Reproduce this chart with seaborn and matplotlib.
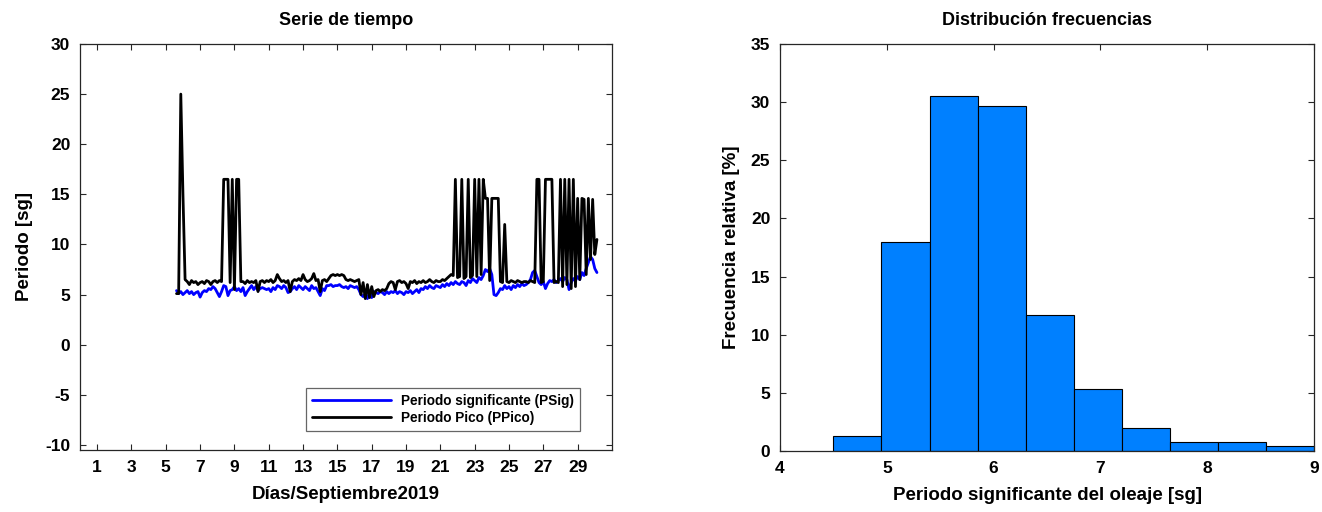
import numpy as np
import pandas as pd
import matplotlib
matplotlib.use("Agg")
import matplotlib.pyplot as plt
import seaborn as sns

# ---------------- data ----------------
# time series sampled every 3 hours (0.125 day), starting at day 5.625 of September 2019
day_start = 5.625
day_step = 0.125

psig = [5.4, 5.1, 5.3,
        5.0, 5.2, 5.4, 5.1, 5.3, 5.0, 5.2, 5.3,
        4.75, 5.2, 5.4, 5.3, 5.6, 5.5, 5.8, 5.6,
        5.2, 4.8, 5.3, 5.9, 5.8, 4.9, 5.4, 5.5,
        5.8, 5.4, 5.6, 5.3, 5.7, 4.9, 5.3, 5.6,
        5.9, 5.5, 5.8, 5.4, 5.6, 5.7, 5.6, 5.5,
        5.6, 5.3, 5.7, 5.5, 5.9, 5.8, 5.6, 5.9,
        5.7, 5.2, 5.3, 5.6, 5.8, 5.5, 5.9, 5.7,
        5.5, 5.8, 5.6, 5.4, 5.9, 5.6, 5.7, 5.3,
        4.9, 5.6, 5.4, 5.9, 5.9, 6.0, 5.8, 5.9,
        5.9, 6.0, 5.8, 5.7, 5.8, 5.6, 5.9, 5.8,
        5.7, 5.8, 5.5, 5.0, 4.8, 5.1, 4.6, 5.2,
        4.7, 5.3, 5.2, 5.1, 5.3, 5.2, 5.0, 5.3,
        5.1, 5.3, 5.2, 5.4, 5.1, 5.3, 5.2, 5.0,
        5.3, 5.2, 5.4, 5.1, 5.3, 5.5, 5.2, 5.6,
        5.5, 5.8, 5.6, 5.9, 5.7, 5.6, 5.9, 5.8,
        5.7, 6.0, 5.8, 6.1, 5.9, 6.2, 6.0, 6.3,
        6.1, 6.0, 6.3, 6.2, 5.9, 6.4, 6.2, 6.6,
        6.4, 6.2, 6.7, 6.5, 6.9, 7.5, 7.3, 7.6,
        7.0, 5.0, 4.9, 5.2, 5.6, 5.5, 5.9, 5.6,
        5.8, 5.5, 5.9, 5.7, 6.0, 5.8, 6.1, 5.9,
        6.0, 6.2, 6.5, 7.2, 7.4, 6.8, 6.2, 6.0,
        6.3, 5.6, 6.1, 6.4, 6.3, 6.5, 6.2, 6.4,
        6.6, 6.3, 6.7, 6.5, 5.5, 6.2, 6.6, 6.4,
        6.8, 6.5, 7.2, 6.9, 7.6, 8.2, 8.8, 8.5,
        7.6, 7.2]

ppico = [5.1, 5.1, 25.0,
         15.0, 6.5, 6.3, 6.0, 6.4, 6.2, 6.3, 6.0,
         6.2, 6.3, 6.1, 6.4, 6.3, 6.0, 6.3, 6.4,
         6.2, 6.4, 6.3, 16.5, 16.5, 16.5, 6.2, 16.5,
         5.5, 16.5, 16.5, 6.3, 6.3, 6.1, 6.4, 6.2,
         6.3, 6.2, 6.4, 5.3, 6.3, 6.4, 6.2, 6.4,
         6.3, 6.5, 6.2, 6.4, 7.0, 6.6, 6.3, 6.4,
         6.2, 6.4, 5.3, 6.3, 6.5, 6.4, 6.6, 6.4,
         7.0, 6.5, 6.3, 6.4, 6.6, 7.1, 6.4, 6.5,
         5.3, 6.4, 6.5, 6.3, 6.6, 6.9, 7.0, 6.9,
         7.0, 6.9, 7.0, 6.9, 6.5, 6.4, 6.5, 6.4,
         6.3, 6.4, 6.5, 5.0, 6.2, 4.6, 6.0, 4.7,
         5.8, 4.8, 5.4, 5.5, 5.3, 5.5, 5.4, 5.6,
         6.1, 6.3, 6.2, 5.5, 6.3, 6.4, 6.2, 6.3,
         6.1, 5.6, 6.3, 6.2, 6.4, 6.1, 6.3, 6.2,
         6.4, 6.2, 6.3, 6.5, 6.3, 6.2, 6.4, 6.3,
         6.3, 6.5, 6.4, 6.6, 6.8, 7.0, 6.9, 16.5,
         6.7, 6.8, 16.5, 6.6, 6.8, 16.5, 6.7, 6.9,
         16.5, 6.8, 16.5, 7.0, 16.5, 14.6, 14.6, 6.4,
         14.6, 14.6, 14.6, 14.6, 6.3, 6.2, 12.0, 6.3,
         6.2, 6.4, 6.3, 6.2, 6.4, 6.3, 6.2, 6.3,
         6.3, 6.2, 6.4, 6.3, 6.2, 16.5, 16.5, 6.2,
         6.3, 16.5, 16.5, 16.5, 16.5, 6.2, 6.3, 6.2,
         16.5, 5.8, 16.5, 6.0, 16.5, 5.6, 16.5, 5.8,
         14.6, 6.5, 14.6, 14.5, 7.0, 14.6, 8.5, 14.5,
         9.0, 10.5]

# histogram of significant period (relative frequency, %)
bin_edges = [4.5, 4.95, 5.4, 5.85, 6.3, 6.75, 7.2, 7.65, 8.1, 8.55, 9.0]
rel_freq = [1.28, 17.96, 30.49, 29.63, 11.70, 5.37, 2.0, 0.77, 0.77, 0.43]

x_ticks_left = list(range(1, 30, 2))
y_ticks_left = list(range(-10, 31, 5))

# ---------------- style ----------------
sns.set_theme(style="ticks")
plt.rcParams["font.family"] = ["Liberation Sans", "DejaVu Sans"]
plt.rcParams["font.weight"] = "bold"
plt.rcParams["axes.labelweight"] = "bold"
plt.rcParams["axes.titleweight"] = "bold"
plt.rcParams["axes.edgecolor"] = "#262626"
plt.rcParams["axes.linewidth"] = 0.9
plt.rcParams["axes.unicode_minus"] = False
plt.rcParams["text.color"] = "black"
plt.rcParams["axes.labelcolor"] = "black"
plt.rcParams["axes.titlecolor"] = "black"

n = len(psig)
days = [day_start + day_step * i for i in range(n)]
df_ts = pd.DataFrame({"dia": days, "PSig": psig, "PPico": ppico})

fig = plt.figure(figsize=(13.22, 5.12), dpi=100)
ax1 = fig.add_axes([0.0605, 0.1211, 0.4024, 0.793])
ax2 = fig.add_axes([0.590, 0.119, 0.404, 0.795])

# ---- left: time series ----
sns.lineplot(data=df_ts, x="dia", y="PSig", ax=ax1, color="#0000FF", linewidth=2.0,
             label="Periodo significante (PSig)", zorder=2)
sns.lineplot(data=df_ts, x="dia", y="PPico", ax=ax1, color="black", linewidth=2.0,
             label="Periodo Pico (PPico)", zorder=3)
ax1.set_xlim(0, 31)
ax1.set_ylim(-10.5, 30)
ax1.set_xticks(x_ticks_left)
ax1.set_yticks(y_ticks_left)
ax1.set_title("Serie de tiempo", fontsize=13, pad=14)
ax1.set_xlabel("Días/Septiembre2019", fontsize=13.5, labelpad=8)
ax1.set_ylabel("Periodo [sg]", fontsize=13.5, labelpad=9)
leg = ax1.legend(loc="lower right", bbox_to_anchor=(0.953, 0.03), fontsize=9.8,
                 handlelength=5.8, frameon=True, fancybox=False, borderpad=0.45,
                 labelspacing=0.2, handletextpad=0.75)
leg.get_frame().set_edgecolor("#404040")
leg.get_frame().set_linewidth(0.9)
for t in leg.get_texts():
    t.set_fontweight("bold")
    t.set_color("black")

# ---- right: histogram ----
centers = [(bin_edges[i] + bin_edges[i + 1]) / 2 for i in range(len(rel_freq))]
sns.histplot(x=centers, weights=rel_freq, bins=bin_edges, ax=ax2,
             color="#0080FF", edgecolor="black", linewidth=0.8, alpha=1.0)
ax2.set_xlim(4, 9)
ax2.set_ylim(0, 35)
ax2.set_xticks([4, 5, 6, 7, 8, 9])
ax2.set_yticks(list(range(0, 36, 5)))
ax2.set_title("Distribución frecuencias", fontsize=13, pad=14)
ax2.set_xlabel("Periodo significante del oleaje [sg]", fontsize=13.5, labelpad=8)
ax2.set_ylabel("Frecuencia relativa [%]", fontsize=13.5, labelpad=8)

for ax in (ax1, ax2):
    ax.tick_params(direction="in", length=4, width=0.8, top=True, right=True,
                   labelsize=12.5, colors="#262626", labelcolor="black", pad=7)
    for lab in ax.get_xticklabels() + ax.get_yticklabels():
        lab.set_fontweight("bold")
    for s in ax.spines.values():
        s.set_visible(True)

fig.savefig("out.png", dpi=100)
